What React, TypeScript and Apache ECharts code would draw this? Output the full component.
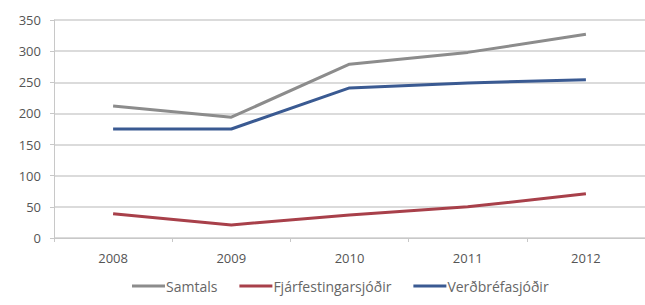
import React, { useEffect, useRef } from "react";
import * as echarts from "echarts";

const categories = ["2008", "2009", "2010", "2011", "2012"];
const samtals = [212, 194, 279, 298, 327];
const fjarfestingarsjodir = [39, 21, 37, 50, 71];
const verdbrefasjodir = [175, 175, 241, 249, 254];
const seriesNames = ["Samtals", "Fjárfestingarsjóðir", "Verðbréfasjóðir"];

export default function App() {
  const ref = useRef<HTMLDivElement>(null);
  useEffect(() => {
    const chart = echarts.init(ref.current!, null, { renderer: "svg" });
    const font = "'Open Sans', sans-serif";
    chart.setOption({
      animation: false,
      backgroundColor: "#ffffff",
      grid: { left: 54, top: 20, width: 598, height: 218 },
      legend: {
        bottom: 12,
        left: 132,
        padding: 0,
        itemWidth: 33,
        itemHeight: 3,
        itemGap: 22,
        icon: "rect",
        textStyle: { fontFamily: font, fontSize: 14, color: "#666", padding: [0, 0, 0, -4] },
        data: seriesNames,
      },
      xAxis: {
        type: "category",
        data: categories,
        boundaryGap: true,
        axisLine: { lineStyle: { color: "#c8c8c8", width: 1 } },
        axisTick: { show: true, length: 4, lineStyle: { color: "#c8c8c8" } },
        axisLabel: { fontFamily: font, fontSize: 13, color: "#555", margin: 13 },
      },
      yAxis: {
        type: "value",
        min: 0,
        max: 350,
        interval: 50,
        axisLine: { show: true, lineStyle: { color: "#c8c8c8" } },
        axisTick: { show: true, length: 4, lineStyle: { color: "#c8c8c8" } },
        axisLabel: { fontFamily: font, fontSize: 13, color: "#555", margin: 13 },
        splitLine: { lineStyle: { color: "#cfcfcf", width: 1.5 } },
      },
      series: [
        {
          name: seriesNames[0],
          type: "line",
          data: samtals,
          symbol: "none",
          lineStyle: { color: "#8c8c8c", width: 3 },
          itemStyle: { color: "#8c8c8c" },
        },
        {
          name: seriesNames[1],
          type: "line",
          data: fjarfestingarsjodir,
          symbol: "none",
          lineStyle: { color: "#a8404a", width: 3 },
          itemStyle: { color: "#a8404a" },
        },
        {
          name: seriesNames[2],
          type: "line",
          data: verdbrefasjodir,
          symbol: "none",
          lineStyle: { color: "#3a5a92", width: 3 },
          itemStyle: { color: "#3a5a92" },
        },
      ],
    });
    return () => chart.dispose();
  }, []);
  return <div ref={ref} style={{ width: 645, height: 305, position: "absolute", left: 0, top: 0 }} />;
}
